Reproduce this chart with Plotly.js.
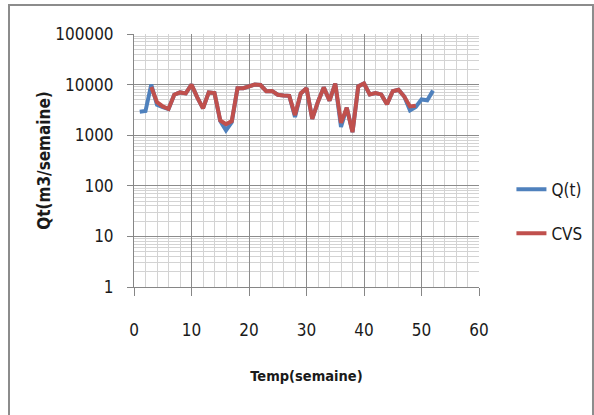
<!DOCTYPE html>
<html>
<head>
<meta charset="utf-8">
<script src="https://cdn.plot.ly/plotly-3.0.1.min.js"></script>
<style>
  html, body { margin: 0; padding: 0; background: #ffffff; }
  #chart { width: 594px; height: 415px; }
</style>
</head>
<body>
<div id="chart"></div>
<script>
// Weekly flow Q(t) and its seasonally adjusted series (CVS), m3 per week
const weeksQ = [1,2,3,4,5,6,7,8,9,10,11,12,13,14,15,16,17,18,19,20,21,22,23,24,25,26,
                27,28,29,30,31,32,33,34,35,36,37,38,39,40,41,42,43,44,45,46,47,48,49,50,51,52];
const valuesQ = [2900,3000,10000,4000,3600,3300,6300,7000,6700,10000,5600,3400,7000,6800,1900,1250,
                 1800,8500,8500,9300,10000,9800,7400,7500,6300,6100,6000,2300,6700,8500,2100,4600,
                 8800,4800,10500,1450,3500,1150,9200,10500,6400,6800,6400,4100,7400,7900,5800,3100,
                 3600,5100,4900,7600];

const weeksCVS = [3,4,5,6,7,8,9,10,11,12,13,14,15,16,17,18,19,20,21,22,23,24,25,26,27,28,
                  29,30,31,32,33,34,35,36,37,38,39,40,41,42,43,44,45,46,47,48,49];
const valuesCVS = [9000,4500,3700,3300,6300,7000,6700,10000,5600,3400,7000,6800,1950,1650,1900,8500,
                   8500,9300,10000,9800,7400,7500,6300,6100,6000,2500,6700,8500,2100,4600,8800,4800,
                   10500,1750,3500,1150,9200,10500,6400,6800,6400,4100,7400,7900,5800,3700,3800];

const yTickVals = [1, 10, 100, 1000, 10000, 100000];
const yTickText = ['1', '10', '100', '1000', '10000', '100000'];
const xTickVals = [0, 10, 20, 30, 40, 50, 60];

const FONT = '"DejaVu Sans Condensed", "DejaVu Sans", sans-serif';

const traces = [
  {
    x: weeksQ, y: valuesQ, name: 'Q(t)', type: 'scatter', mode: 'lines',
    line: { color: '#4F81BD', width: 4 }, legendgroup: 'q'
  },
  {
    x: weeksCVS, y: valuesCVS, name: 'CVS', type: 'scatter', mode: 'lines',
    line: { color: '#C0504D', width: 4 }, legendgroup: 'c'
  }
];

const layout = {
  width: 594, height: 415,
  margin: { l: 134, r: 115, t: 34, b: 128, autoexpand: false },
  paper_bgcolor: '#ffffff', plot_bgcolor: '#ffffff',
  font: { family: FONT, size: 17, color: '#1a1a1a' },
  showlegend: true,
  legend: {
    xref: 'container', yref: 'container',
    x: 0.861, y: 0.49, xanchor: 'left', yanchor: 'middle',
    tracegroupgap: 19, font: { family: FONT, size: 17, color: '#1a1a1a' },
    bgcolor: 'rgba(0,0,0,0)'
  },
  xaxis: {
    range: [0, 60], tickvals: xTickVals,
    showline: true, linecolor: '#868686', linewidth: 1,
    showgrid: true, gridcolor: '#8c8c8c', gridwidth: 1,
    ticks: 'outside', ticklen: 8, tickcolor: '#868686',
    ticklabelstandoff: 20, zeroline: false,
    tickfont: { family: FONT, size: 17, color: '#1a1a1a' },
    minor: { dtick: 2, showgrid: true, gridcolor: '#d3d3d3', gridwidth: 1, ticks: '' },
    title: { text: 'Temp(semaine)', font: { family: FONT, size: 14.5, color: '#1a1a1a', weight: 'bold' }, standoff: 31 }
  },
  yaxis: {
    type: 'log', range: [0, 5],
    tickvals: yTickVals, ticktext: yTickText,
    showline: true, linecolor: '#868686', linewidth: 1,
    showgrid: true, gridcolor: '#8c8c8c', gridwidth: 1,
    ticks: 'outside', ticklen: 6, tickcolor: '#868686',
    ticklabelstandoff: 10, zeroline: false,
    tickfont: { family: FONT, size: 17, color: '#1a1a1a' },
    minor: { dtick: 'D1', showgrid: true, gridcolor: '#d3d3d3', gridwidth: 1, ticks: '' },
    title: { text: 'Qt(m3/semaine)', font: { family: FONT, size: 17, color: '#1a1a1a', weight: 'bold' }, standoff: 0 }
  },
  shapes: [
    {
      type: 'rect', xref: 'paper', yref: 'paper', layer: 'below',
      x0: -0.3623, x1: 1.3304, y0: -0.52, y1: 1.1146,
      line: { color: '#8c8c8c', width: 2 }, fillcolor: 'rgba(0,0,0,0)'
    }
  ]
};

Plotly.newPlot('chart', traces, layout, { displayModeBar: false, staticPlot: true });
</script>
</body>
</html>
